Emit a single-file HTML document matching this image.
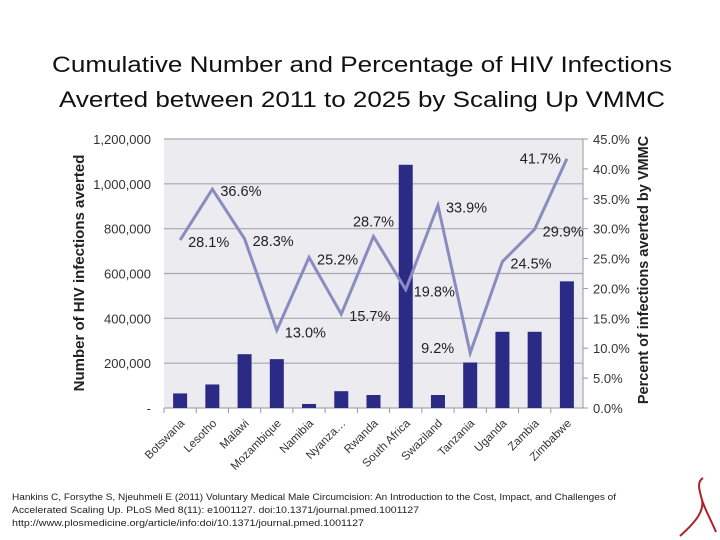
<!DOCTYPE html>
<html><head><meta charset="utf-8"><style>
body{margin:0;background:#fff;width:720px;height:540px;overflow:hidden}
svg{display:block;font-family:"Liberation Sans",Arial,sans-serif}
</style></head><body>
<svg width="720" height="540" viewBox="0 0 720 540">
<text x="362" y="72" text-anchor="middle" font-size="22" textLength="620" lengthAdjust="spacingAndGlyphs" fill="#111">Cumulative Number and Percentage of HIV Infections</text>
<text x="362" y="107" text-anchor="middle" font-size="22" textLength="606" lengthAdjust="spacingAndGlyphs" fill="#111">Averted between 2011 to 2025 by Scaling Up VMMC</text>
<g id="plot"></g>
<text x="12" y="500" font-size="9" fill="#222" textLength="604" lengthAdjust="spacingAndGlyphs">Hankins C, Forsythe S, Njeuhmeli E (2011) Voluntary Medical Male Circumcision: An Introduction to the Cost, Impact, and Challenges of</text>
<text x="12" y="513" font-size="9" fill="#222" textLength="407" lengthAdjust="spacingAndGlyphs">Accelerated Scaling Up. PLoS Med 8(11): e1001127. doi:10.1371/journal.pmed.1001127</text>
<text x="12" y="526" font-size="9" fill="#222" textLength="352" lengthAdjust="spacingAndGlyphs">http://www.plosmedicine.org/article/info:doi/10.1371/journal.pmed.1001127</text>
<path d="M703 478 C696 482 700 492 702 500 C704 510 698 520 680 536 M702 500 C706 512 712 522 716 532" stroke="#b0202a" stroke-width="2" fill="none"/>
</svg>
<script>
const categories=["Botswana","Lesotho","Malawi","Mozambique","Namibia","Nyanza…","Rwanda","South Africa","Swaziland","Tanzania","Uganda","Zambia","Zimbabwe"];
const infections=[65000,105000,240000,218000,18000,75000,58000,1085000,58000,203000,340000,340000,565000];
const percents=[28.1,36.6,28.3,13.0,25.2,15.7,28.7,19.8,33.9,9.2,24.5,29.9,41.7];
const leftTicks=[0,200000,400000,600000,800000,1000000,1200000];
const leftTickLabels=["-","200,000","400,000","600,000","800,000","1,000,000","1,200,000"];
const rightTicks=[0,5,10,15,20,25,30,35,40,45];
const labelPlacement=["r","r","r","r","r","r","a","r","r","l","r","r","l2"];

const NS="http://www.w3.org/2000/svg";
const g=document.getElementById('plot');
const X0=164,X1=583,Y0=408,Y1=139;
const band=(X1-X0)/categories.length;
const xc=i=>X0+band*(i+0.5);
const yL=v=>Y0-(v/1200000)*(Y0-Y1);
const yR=v=>Y0-(v/45)*(Y0-Y1);
function mk(t,a){const e=document.createElementNS(NS,t);for(const k in a)e.setAttribute(k,a[k]);g.appendChild(e);return e;}

const bg=mk('rect',{x:X0,y:Y1,width:X1-X0,height:Y0-Y1,fill:'#ebebf0'});


leftTicks.forEach((v,i)=>{
  const ln=mk('line',{x1:X0,x2:X1,y1:yL(v),y2:yL(v),stroke:'#a8a8b0','stroke-width':1.2});
  
  
  const t=mk('text',{x:151,y:yL(v)+5,'text-anchor':'end','font-size':13,fill:'#333'});
  t.textContent=leftTickLabels[i];
  
  
});
rightTicks.forEach(v=>{
  const tk=mk('line',{x1:X1,x2:X1+5,y1:yR(v),y2:yR(v),stroke:'#999'});
  
  
  const t=mk('text',{x:593,y:yR(v)+5,'font-size':13,fill:'#333'});
  t.textContent=v.toFixed(1)+'%';
  
  
});
const ra=mk('line',{x1:X1,x2:X1,y1:Y1,y2:Y0,stroke:'#999'});


categories.forEach((c,i)=>{
  const tk=mk('line',{x1:X0+band*i,x2:X0+band*i,y1:Y0,y2:Y0+5,stroke:'#999'});
  
  
  const b=mk('rect',{x:xc(i)-7,y:yL(infections[i]),width:14,height:Y0-yL(infections[i]),fill:'#2b2b85'});
  
  
  const t=mk('text',{x:xc(i)+5,y:Y0+16,'text-anchor':'end','font-size':11.5,fill:'#333',transform:`rotate(-45 ${xc(i)+5} ${Y0+16})`});
  t.textContent=c;
  
  
});
const pts=percents.map((p,i)=>xc(i)+','+yR(p)).join(' ');
const pl=mk('polyline',{points:pts,fill:'none',stroke:'#8a8cc0','stroke-width':3,'stroke-linejoin':'miter'});


percents.forEach((p,i)=>{
  const px=xc(i),py=yR(p),m=labelPlacement[i];
  let a={x:px+8,y:py+7,'font-size':14.5,fill:'#222'};
  if(m==='a'){a.x=px;a.y=py-10;a['text-anchor']='middle';}
  if(m==='l'){a.x=px-16;a.y=py;a['text-anchor']='end';}
  if(m==='l2'){a.x=px-6;a.y=py+5;a['text-anchor']='end';}
  const t=mk('text',a);
  t.textContent=p.toFixed(1)+'%';
  
  
});
const lt=mk('text',{x:84,y:273,'text-anchor':'middle','font-size':15,'font-weight':'bold',fill:'#222',transform:'rotate(-90 84 273)'});
lt.textContent='Number of HIV infections averted';


const rt=mk('text',{x:648,y:270,'text-anchor':'middle','font-size':14.5,'font-weight':'bold',fill:'#222',transform:'rotate(-90 648 270)'});
rt.textContent='Percent of infections averted by VMMC';


</script>
</body></html>
